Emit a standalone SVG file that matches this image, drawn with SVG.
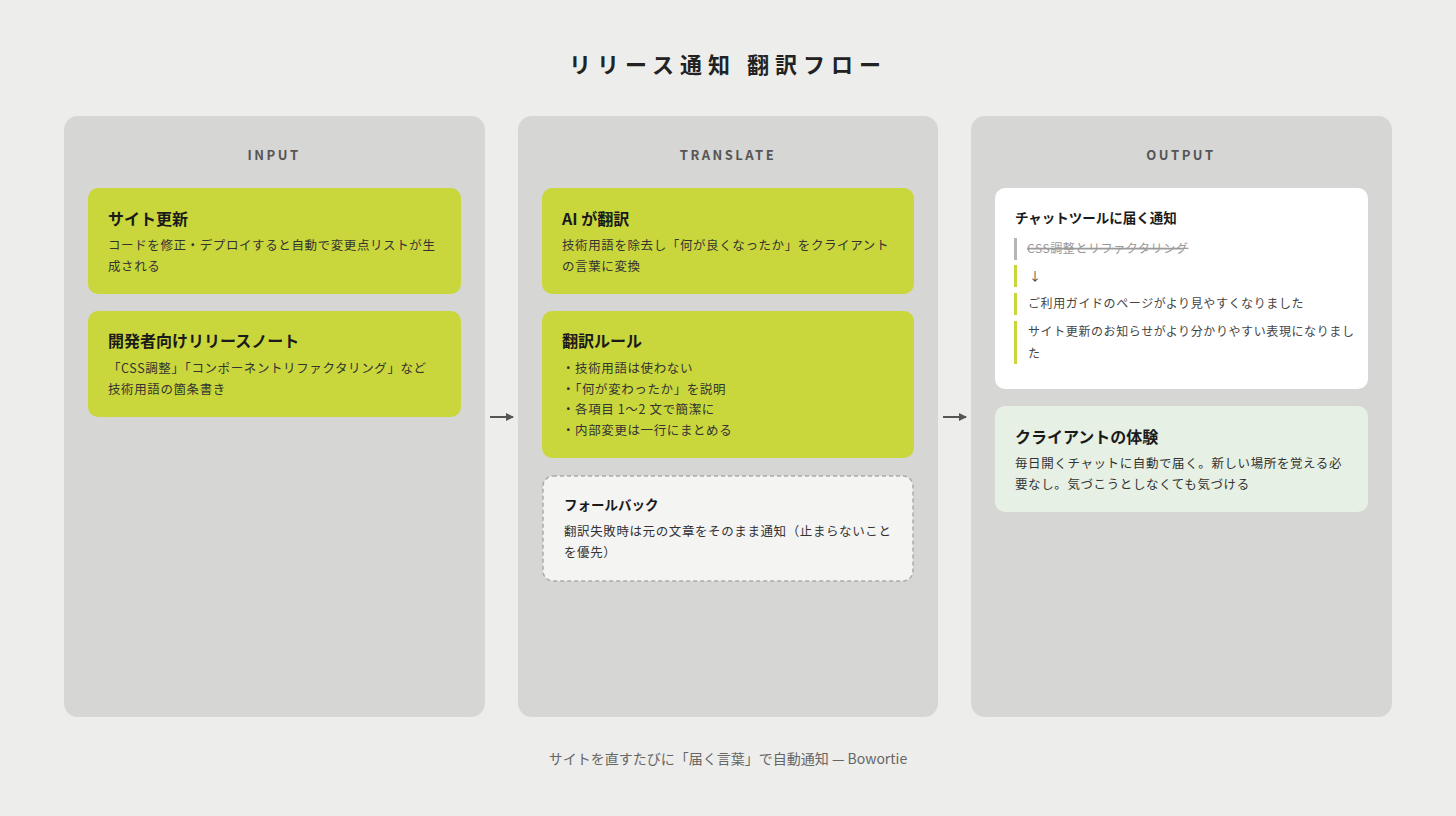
<svg xmlns="http://www.w3.org/2000/svg" width="1456" height="816" viewBox="0 0 1456 816">
<style>
text{font-family:"Noto Sans CJK JP","Noto Sans",sans-serif;fill:#222}
.title{font-size:22px;font-weight:700;letter-spacing:6px}
.col{font-size:13px;font-weight:700;letter-spacing:2.5px;fill:#555}
.panel{fill:#d6d6d4}
.lime{fill:#c9d73c}
.h{font-size:16px;font-weight:700;fill:#1a1a1a}
.hs{font-size:13.5px;font-weight:700;fill:#1a1a1a}
.b{font-size:12.5px;fill:#333;letter-spacing:0.6px}
.n{font-size:12px;fill:#444;letter-spacing:0.6px}
.foot{font-size:14px;fill:#666}
.arrow{stroke:#555;stroke-width:2;fill:none}
</style>
<defs><marker id="ah" markerWidth="8" markerHeight="8" refX="7" refY="4" orient="auto" markerUnits="userSpaceOnUse"><path d="M0,0 L8,4 L0,8 z" fill="#555"/></marker></defs>
<rect width="1456" height="816" fill="#ededeb"/>
<text class="title" x="728" y="73" text-anchor="middle">リリース通知 翻訳フロー</text>

<g id="input">
<rect class="panel" x="64" y="116" width="421" height="601" rx="14"/>
<text class="col" x="274" y="160" text-anchor="middle">INPUT</text>
</g>
<g id="node-site">
<rect class="lime" x="88" y="188" width="373" height="106" rx="10"/>
<text class="h" x="108" y="225">サイト更新</text>
<text class="b" x="108" y="250">コードを修正・デプロイすると自動で変更点リストが生</text>
<text class="b" x="108" y="271">成される</text>
</g>
<g id="node-notes">
<rect class="lime" x="88" y="311" width="373" height="106" rx="10"/>
<text class="h" x="108" y="347">開発者向けリリースノート</text>
<text class="b" x="108" y="373">「CSS調整」「コンポーネントリファクタリング」など</text>
<text class="b" x="108" y="394">技術用語の箇条書き</text>
</g>

<g id="translate">
<rect class="panel" x="518" y="116" width="420" height="601" rx="14"/>
<text class="col" x="728" y="160" text-anchor="middle">TRANSLATE</text>
</g>
<g id="node-ai">
<rect class="lime" x="542" y="188" width="372" height="106" rx="10"/>
<text class="h" x="562" y="225">AI が翻訳</text>
<text class="b" x="562" y="250">技術用語を除去し「何が良くなったか」をクライアント</text>
<text class="b" x="562" y="271">の言葉に変換</text>
</g>
<g id="node-rules">
<rect class="lime" x="542" y="311" width="372" height="147" rx="10"/>
<text class="h" x="562" y="347">翻訳ルール</text>
<text class="b" x="562" y="373">・技術用語は使わない</text>
<text class="b" x="562" y="394">・「何が変わったか」を説明</text>
<text class="b" x="562" y="414">・各項目 1〜2 文で簡潔に</text>
<text class="b" x="562" y="435">・内部変更は一行にまとめる</text>
</g>
<g id="node-fallback">
<rect x="543" y="476" width="370" height="105" rx="10" fill="#f4f4f3" stroke="#aaa" stroke-width="1.5" stroke-dasharray="4 3"/>
<text class="hs" x="564" y="510">フォールバック</text>
<text class="b" x="564" y="536">翻訳失敗時は元の文章をそのまま通知（止まらないこと</text>
<text class="b" x="564" y="557">を優先）</text>
</g>

<g id="output">
<rect class="panel" x="971" y="116" width="421" height="601" rx="14"/>
<text class="col" x="1181" y="160" text-anchor="middle">OUTPUT</text>
</g>
<g id="node-chat">
<rect x="995" y="188" width="373" height="201" rx="10" fill="#fff"/>
<text class="hs" x="1015" y="223">チャットツールに届く通知</text>
<rect x="1014" y="238" width="3" height="22" fill="#b5b5b5"/>
<text class="n" x="1027" y="253" fill="#999" style="fill:#999" text-decoration="line-through">CSS調整とリファクタリング</text>
<line x1="1027" y1="249" x2="1182" y2="249" stroke="#999" stroke-width="1"/>
<rect x="1014" y="265" width="3" height="22" fill="#c9d73c"/>
<text class="n" x="1029" y="281">↓</text>
<rect x="1014" y="293" width="3" height="22" fill="#c9d73c"/>
<text class="n" x="1028" y="308">ご利用ガイドのページがより見やすくなりました</text>
<rect x="1014" y="321" width="3" height="43" fill="#c9d73c"/>
<text class="n" x="1028" y="336">サイト更新のお知らせがより分かりやすい表現になりまし</text>
<text class="n" x="1028" y="358">た</text>
</g>
<g id="node-client">
<rect x="995" y="406" width="373" height="106" rx="10" fill="#e6f0e4"/>
<text class="h" x="1015" y="443">クライアントの体験</text>
<text class="b" x="1015" y="468">毎日開くチャットに自動で届く。新しい場所を覚える必</text>
<text class="b" x="1015" y="489">要なし。気づこうとしなくても気づける</text>
</g>

<g id="connectors">
<line class="arrow" x1="490" y1="417" x2="513" y2="417" marker-end="url(#ah)"/>
<line class="arrow" x1="943" y1="417" x2="966" y2="417" marker-end="url(#ah)"/>
</g>
<text class="foot" x="728" y="764" text-anchor="middle">サイトを直すたびに「届く言葉」で自動通知 — Bowortie</text>
</svg>
